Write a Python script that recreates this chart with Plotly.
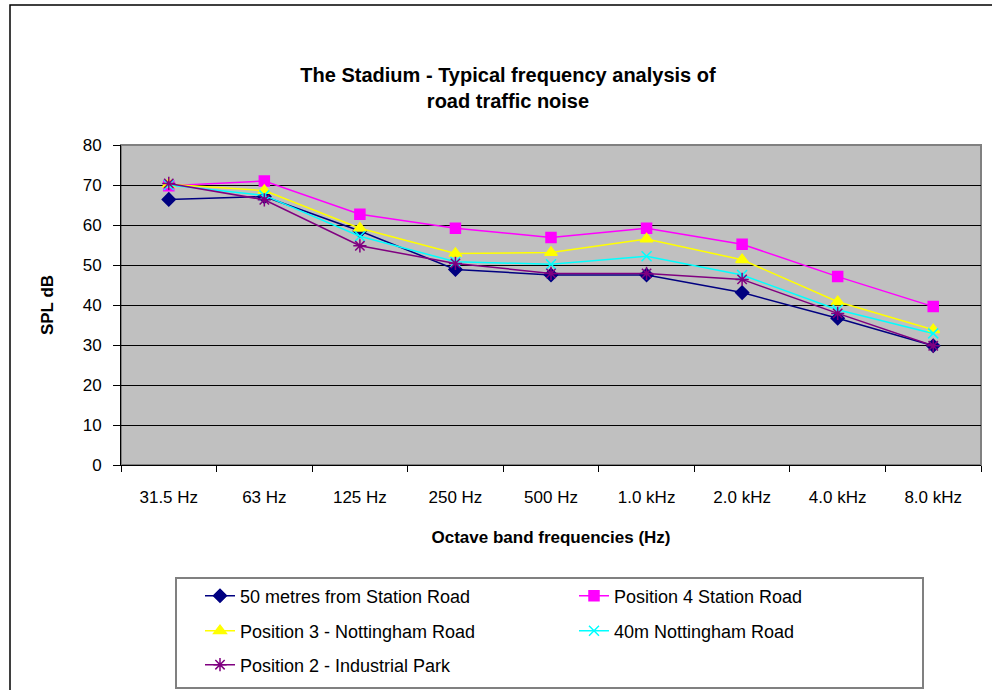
import plotly.graph_objects as go

categories = ["31.5 Hz", "63 Hz", "125 Hz", "250 Hz", "500 Hz", "1.0 kHz", "2.0 kHz", "4.0 kHz", "8.0 kHz"]

s_50m_station = [66.4, 67.1, 58.5, 48.9, 47.5, 47.5, 43.1, 36.7, 29.8]
s_pos4_station = [69.8, 71.0, 62.7, 59.2, 56.9, 59.2, 55.2, 47.1, 39.6]
s_pos3_nott = [70.2, 68.6, 59.2, 52.9, 53.1, 56.5, 51.3, 40.8, 33.8]
s_40m_nott = [70.0, 67.4, 57.2, 50.8, 50.2, 52.2, 47.5, 38.8, 32.9]
s_pos2_ind = [70.4, 66.3, 54.8, 50.4, 47.9, 47.9, 46.4, 37.9, 29.8]

series_names = [
    "50 metres from Station Road",
    "Position 4 Station Road",
    "Position 3 - Nottingham Road",
    "40m Nottingham Road",
    "Position 2 - Industrial Park",
]
series_values = [s_50m_station, s_pos4_station, s_pos3_nott, s_40m_nott, s_pos2_ind]
series_colors = ["#000080", "#FF00FF", "#FFFF00", "#00FFFF", "#800080"]
series_symbols = ["diamond", "square", "triangle-up", "x-thin-open", "asterisk-open"]
series_sizes = [10, 10, 11, 10, 11]
series_legends = ["legend", "legend", "legend2", "legend2", "legend3"]

FONT = "Liberation Sans, Arial, sans-serif"

fig = go.Figure()
for name, vals, col, sym, sz, lg in zip(series_names, series_values, series_colors,
                                        series_symbols, series_sizes, series_legends):
    fig.add_trace(go.Scatter(
        x=categories, y=vals, name=name, mode="lines+markers",
        line=dict(color=col, width=1.5),
        marker=dict(symbol=sym, size=sz, color=col, line=dict(color=col, width=1.5)),
        legend=lg,
    ))

W, H = 992, 690
L, R, T, B = 121, 11, 145, 225
pw, ph = W - L - R, H - T - B


def px_x(p):
    return (p - L) / pw


def px_y(p):
    return (H - B - p) / ph


shapes = [
    # outer chart border
    dict(type="rect", xref="paper", yref="paper", x0=px_x(10), x1=px_x(1000),
         y0=px_y(700), y1=px_y(5), line=dict(color="black", width=1.5), layer="below"),
    # plot-area frame (grey top/right)
    dict(type="rect", xref="paper", yref="paper", x0=0, x1=1, y0=0, y1=1,
         line=dict(color="#808080", width=2), layer="below"),
    # legend box
    dict(type="rect", xref="paper", yref="paper", x0=px_x(176), x1=px_x(923),
         y0=px_y(688), y1=px_y(578), line=dict(color="#808080", width=2),
         fillcolor="white", layer="below"),
]

legend_common = dict(
    orientation="h", xanchor="left", yanchor="middle",
    x=px_x(200), entrywidth=329, entrywidthmode="pixels",
    bgcolor="rgba(0,0,0,0)", borderwidth=0,
    font=dict(family=FONT, size=18, color="black"),
    itemclick=False, itemdoubleclick=False,
)

fig.update_layout(
    width=W, height=H,
    margin=dict(l=L, r=R, t=T, b=B, pad=0, autoexpand=False),
    paper_bgcolor="white", plot_bgcolor="#C0C0C0",
    font=dict(family=FONT, size=16, color="black"),
    title=dict(
        text="The Stadium - Typical frequency analysis of<br>road traffic noise",
        x=508 / W, xanchor="center", xref="container",
        y=1 - 82 / H, yanchor="middle", yref="container",
        font=dict(family=FONT, size=20, color="black", weight="bold"),
    ),
    xaxis=dict(
        type="category", tickson="boundaries", ticks="outside", ticklen=6,
        tickcolor="black", showline=True, linecolor="black", linewidth=1,
        showgrid=False, ticklabelstandoff=17,
        tickfont=dict(family=FONT, size=17),
        title=dict(text="Octave band frequencies (Hz)", standoff=24,
                   font=dict(family=FONT, size=17, weight="bold")),
        range=[-0.5, 8.5],
    ),
    yaxis=dict(
        range=[0, 80], dtick=10, ticks="outside", ticklen=7, tickcolor="black",
        showline=True, linecolor="black", linewidth=1,
        showgrid=True, gridcolor="black", gridwidth=1,
        ticklabelstandoff=8, tickfont=dict(family=FONT, size=17),
        title=dict(text="SPL dB", standoff=24,
                   font=dict(family=FONT, size=17, weight="bold")),
        zeroline=False,
    ),
    legend=dict(legend_common, y=px_y(596)),
    legend2=dict(legend_common, y=px_y(631)),
    legend3=dict(legend_common, y=px_y(665)),
    shapes=shapes,
    showlegend=True,
)

fig.write_html("out.html")
